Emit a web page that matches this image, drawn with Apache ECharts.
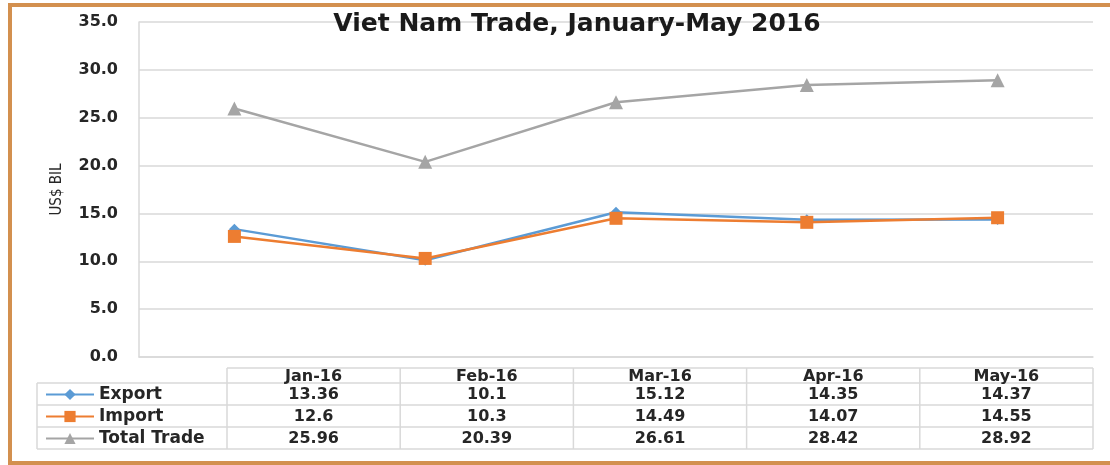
<!DOCTYPE html>
<html>
<head>
<meta charset="utf-8">
<script src="https://cdn.jsdelivr.net/npm/echarts@6/dist/echarts.min.js"></script>
<style>
html,body{margin:0;padding:0;background:#fff;}
#chart{width:1110px;height:465px;}
</style>
</head>
<body>
<div id="chart"></div>
<script>
var fontFamily='"DejaVu Sans",Verdana,sans-serif';
var categories=['Jan-16','Feb-16','Mar-16','Apr-16','May-16'];
var exportVals=[13.36,10.1,15.12,14.35,14.37];
var importVals=[12.6,10.3,14.49,14.07,14.55];
var totalVals=[25.96,20.39,26.61,28.42,28.92];
var seriesNames=['Export','Import','Total Trade'];
var colors=['#5B9BD5','#ED7D31','#A5A5A5'];

// data table under the plot
var tbl={left:37,colLeft:227,colW:173.2,headTop:368,rowTop:383,rowH:22,rows:3};
function build_table(){
    var g=[];
    var line='#d9d9d9';
    var right=tbl.colLeft+tbl.colW*categories.length;
    var bottom=tbl.rowTop+tbl.rowH*tbl.rows;
    g.push({type:'line',shape:{x1:tbl.colLeft,y1:tbl.headTop,x2:right,y2:tbl.headTop},style:{stroke:line,lineWidth:1.5}});
    for(var r=0;r<=tbl.rows;r++){
        var y=tbl.rowTop+r*tbl.rowH;
        g.push({type:'line',shape:{x1:tbl.left,y1:y,x2:right,y2:y},style:{stroke:line,lineWidth:1.5}});
    }
    g.push({type:'line',shape:{x1:tbl.left,y1:tbl.rowTop,x2:tbl.left,y2:bottom},style:{stroke:line,lineWidth:1.5}});
    for(var c=0;c<=categories.length;c++){
        var x=tbl.colLeft+c*tbl.colW;
        g.push({type:'line',shape:{x1:x,y1:tbl.headTop,x2:x,y2:bottom},style:{stroke:line,lineWidth:1.5}});
    }
    var rowsData=[exportVals,importVals,totalVals];
    categories.forEach(function(cat,i){
        var cx=tbl.colLeft+(i+0.5)*tbl.colW;
        g.push({type:'text',x:cx,y:(tbl.headTop+tbl.rowTop)/2+1,style:cell(cat)});
        rowsData.forEach(function(arr,r){
            g.push({type:'text',x:cx,y:tbl.rowTop+(r+0.5)*tbl.rowH+1,style:cell(String(arr[i]))});
        });
    });
    return g;
}
function cell(t){
    return {text:t,font:'bold 16px '+fontFamily,fill:'#262626',align:'center',verticalAlign:'middle'};
}

var frame={type:'rect',shape:{x:10,y:5,width:1120,height:458},style:{fill:'none',stroke:'#D3904F',lineWidth:4},z:10};

var option={
    animation:false,
    color:colors,
    title:{
        text:'Viet Nam Trade, January-May 2016',
        left:572,top:7,textAlign:'center',
        textStyle:{fontFamily:fontFamily,fontWeight:'bold',fontSize:25,color:'#1a1a1a'}
    },
    legend:{
        orient:'vertical',left:45,top:386,padding:0,
        itemWidth:48,itemHeight:14,itemGap:5,
        data:seriesNames,
        textStyle:{fontFamily:fontFamily,fontWeight:'bold',fontSize:17,color:'#262626'}
    },
    grid:{left:139,right:17,top:22,bottom:108},
    xAxis:{
        type:'category',
        data:categories,
        boundaryGap:true,
        axisLine:{lineStyle:{color:'#d9d9d9',width:1.5}},
        axisTick:{show:false},
        axisLabel:{show:false}
    },
    yAxis:{
        type:'value',min:0,max:35,interval:5,
        name:'US$ BIL',nameLocation:'middle',nameGap:74,
        nameTextStyle:{fontFamily:'"Liberation Sans Narrow","DejaVu Sans Condensed",Arial,sans-serif',fontSize:15,color:'#262626'},
        axisLine:{show:true,lineStyle:{color:'#d9d9d9',width:1.5}},
        axisTick:{show:false},
        axisLabel:{
            margin:21,
            fontFamily:fontFamily,fontWeight:'bold',fontSize:16,color:'#262626',
            formatter:function(v){return v.toFixed(1);}
        },
        splitLine:{lineStyle:{color:'#d9d9d9',width:1.5}}
    },
    series:[
        {name:seriesNames[0],type:'line',data:exportVals,symbol:'diamond',symbolSize:11,lineStyle:{width:2.5},z:3},
        {name:seriesNames[1],type:'line',data:importVals,symbol:'rect',symbolSize:13,lineStyle:{width:2.5},z:4},
        {name:seriesNames[2],type:'line',data:totalVals,symbol:'triangle',symbolSize:14,lineStyle:{width:2.5},z:2}
    ],
    graphic:build_table().concat([frame])
};
var chart=echarts.init(document.getElementById('chart'));
chart.setOption(option);
</script>
</body>
</html>
